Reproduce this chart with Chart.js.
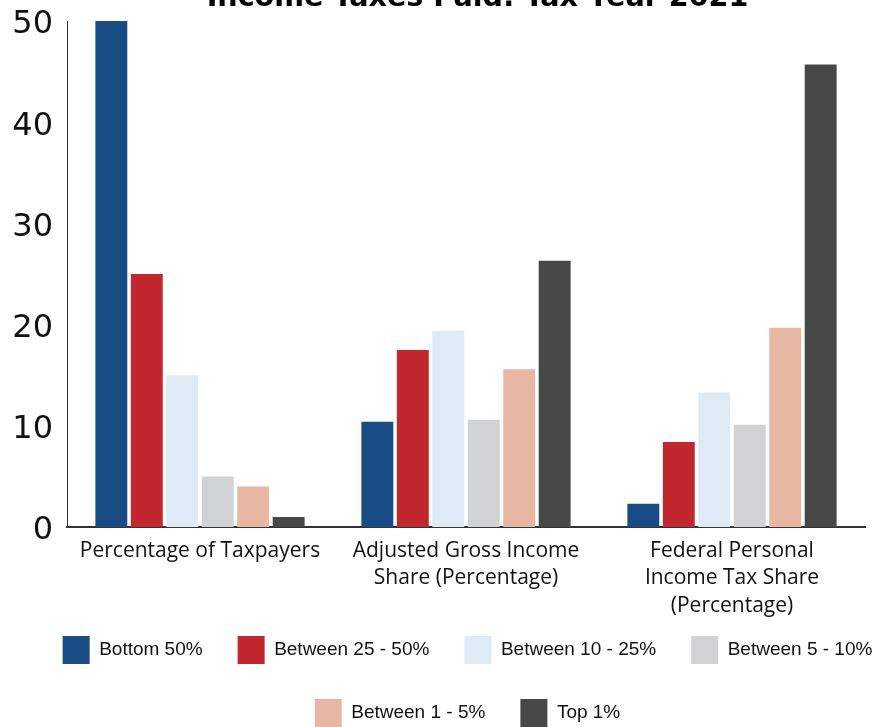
<!DOCTYPE html>
<html>
<head>
<meta charset="utf-8">
<script src="https://cdn.jsdelivr.net/npm/chart.js@4"></script>
<style>
  html, body { margin: 0; padding: 0; background: #ffffff; overflow: hidden; width: 875px; height: 727px; }
  #wrap { position: absolute; left: 0; top: -30px; width: 935px; height: 786px; }
</style>
</head>
<body>
<div id="wrap"><canvas id="c" width="935" height="786"></canvas></div>
<script>
const titleText = "Income Taxes Paid: Tax Year 2021";
const categories = [
  ["Percentage of Taxpayers"],
  ["Adjusted Gross Income", "Share (Percentage)"],
  ["Federal Personal", "Income Tax Share", "(Percentage)"]
];
const seriesNames = ["Bottom 50%", "Between 25 - 50%", "Between 10 - 25%", "Between 5 - 10%", "Between 1 - 5%", "Top 1%"];
const bottom50 = [50, 10.4, 2.3];
const between25to50 = [25, 17.5, 8.4];
const between10to25 = [15, 19.4, 13.3];
const between5to10 = [5, 10.6, 10.1];
const between1to5 = [4, 15.6, 19.7];
const top1 = [1, 26.3, 45.7];
const yTicks = [0, 10, 20, 30, 40, 50];
const colors = ["#194C85", "#C1272D", "#DEEAF4", "#D1D2D4", "#E7B7A3", "#474748"];

const seriesValues = [bottom50, between25to50, between10to25, between5to10, between1to5, top1];

// Nudge the legend up into the free space under the axis labels and the title to the right
const layoutTweaks = {
  id: 'layoutTweaks',
  afterLayout(chart) {
    const lg = chart.legend;
    if (lg) { lg.top -= 19; lg.bottom -= 19; }
    const t = chart.titleBlock;
    if (t) { t.left += 10; t.right += 10; }
  }
};

new Chart(document.getElementById('c'), {
  type: 'bar',
  data: {
    labels: categories,
    datasets: seriesNames.map((name, i) => ({
      label: name,
      data: seriesValues[i],
      backgroundColor: colors[i],
      borderWidth: 0,
      yAxisID: 'y'
    }))
  },
  plugins: [layoutTweaks],
  options: {
    responsive: false,
    animation: false,
    layout: { padding: 0 },
    plugins: {
      title: {
        display: true,
        text: titleText,
        color: '#000',
        font: { family: 'DejaVu Sans', size: 28.6, weight: 'bold', lineHeight: 1.2 },
        padding: { top: 11, bottom: 5.7 }
      },
      legend: {
        position: 'bottom',
        align: 'center',
        labels: {
          boxWidth: 27,
          boxHeight: 28,
          padding: 35,
          color: '#111',
          font: { family: 'Liberation Sans', size: 19 }
        }
      },
      tooltip: { enabled: false }
    },
    scales: {
      x: {
        grid: { display: false, drawTicks: false },
        border: { display: true, color: '#333', width: 2 },
        ticks: {
          color: '#111',
          font: { family: 'Open Sans', size: 21, lineHeight: 1.31 },
          padding: 10,
          maxRotation: 0,
          autoSkip: false
        },
        afterFit: s => { s.height = 93; }
      },
      y: {
        min: 0,
        max: 50,
        afterBuildTicks: s => { s.ticks = yTicks.map(v => ({ value: v })); },
        grid: { display: false, drawTicks: false },
        border: { display: true, color: '#333', width: 1 },
        ticks: {
          color: '#111',
          font: { family: 'DejaVu Sans', size: 32 },
          padding: 14,
          labelOffset: 4
        },
        afterFit: s => { s.width = 67; }
      },
      yR: {
        type: 'linear',
        position: 'right',
        display: true,
        grid: { display: false, drawTicks: false },
        border: { display: false },
        ticks: { display: false },
        afterFit: s => { s.width = 70; }
      }
    }
  }
});
</script>
</body>
</html>
